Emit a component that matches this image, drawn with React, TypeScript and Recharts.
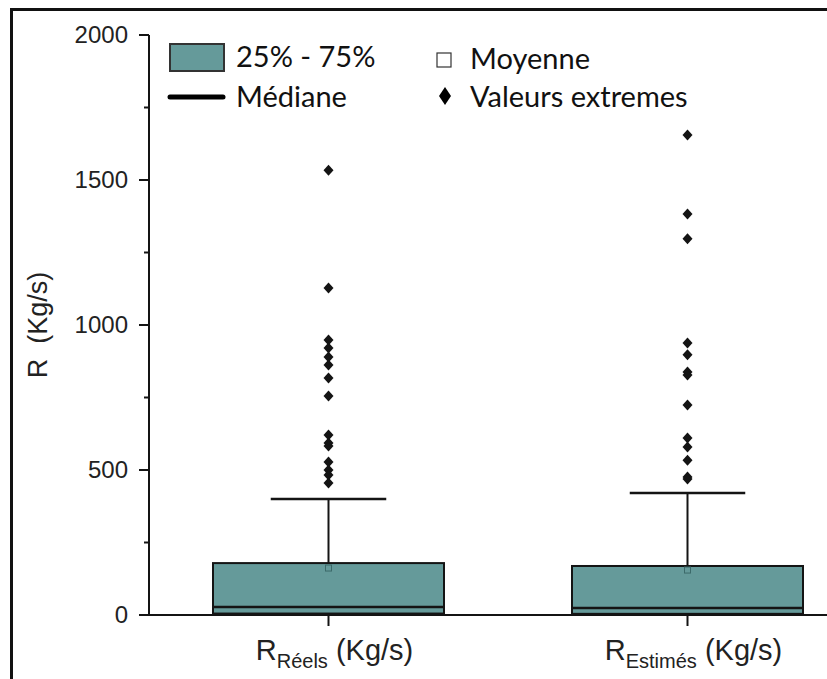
import { ComposedChart, Bar, XAxis, YAxis } from "recharts";

const groups = ["Réels", "Estimés"];
const q1 = [5, 4];
const q3 = [179, 169];
const medians = [28, 24];
const means = [162, 155];
const whiskerLow = [0, 0];
const whiskerHigh = [400, 421];
const outliersReels = [1534, 1128, 948, 921, 890, 862, 817, 755, 621, 593, 583, 528, 500, 483, 455];
const outliersEstimes = [1655, 1383, 1297, 938, 897, 838, 828, 724, 610, 579, 534, 476, 469];
const yTicks = [0, 250, 500, 750, 1000, 1250, 1500, 1750, 2000];
const yLabels = [0, 500, 1000, 1500, 2000];

const FILL = "#659a9a";
const INK = "#141414";
const SANS = "'Liberation Sans', Arial, sans-serif";

const data = groups.map((name, i) => ({
  name,
  q1: q1[i],
  q3: q3[i],
  median: medians[i],
  mean: means[i],
  low: whiskerLow[i],
  high: whiskerHigh[i],
  outliers: i === 0 ? outliersReels : outliersEstimes,
}));

const BoxShape = (props: any) => {
  const { x, y, width, height, payload } = props;
  const p = payload;
  const k = height / (p.q3 - p.q1);
  const yOf = (v: number) => y + height - (v - p.q1) * k;
  const cx = x + width / 2;
  const cap = width / 2;
  return (
    <g>
      <line x1={cx} x2={cx} y1={yOf(p.q3)} y2={yOf(p.high)} stroke={INK} strokeWidth={2} />
      <line x1={cx - cap / 2} x2={cx + cap / 2} y1={yOf(p.high)} y2={yOf(p.high)} stroke={INK} strokeWidth={2.5} />
      <line x1={cx} x2={cx} y1={yOf(p.q1)} y2={yOf(p.low)} stroke={INK} strokeWidth={2} />
      <rect x={x} y={y} width={width} height={height} fill={FILL} stroke={INK} strokeWidth={2} />
      <line x1={x} x2={x + width} y1={yOf(p.median)} y2={yOf(p.median)} stroke={INK} strokeWidth={2.5} />
      <rect x={cx - 3} y={yOf(p.mean) - 3} width={6} height={6} fill="none" stroke="#3c6a6a" strokeWidth={1} />
      {p.outliers.map((v: number, j: number) => {
        const oy = yOf(v);
        return (
          <path key={j} d={`M${cx},${oy - 5.5} L${cx + 5},${oy} L${cx},${oy + 5.5} L${cx - 5},${oy} Z`} fill={INK} />
        );
      })}
    </g>
  );
};

const YTick = (props: any) => {
  const { x, y, payload } = props;
  const major = yLabels.includes(payload.value);
  return (
    <g>
      <line x1={x - (major ? 10 : 5)} x2={x} y1={y} y2={y} stroke={INK} strokeWidth={2} />
      {major && (
        <text x={x - 21} y={y} dy={8} textAnchor="end" fontSize={24} fill="#222" fontFamily={SANS}>
          {payload.value}
        </text>
      )}
    </g>
  );
};

const XTick = (props: any) => {
  const { x, y, payload } = props;
  return (
    <g>
      <line x1={x} x2={x} y1={y} y2={y + 11} stroke={INK} strokeWidth={2} />
      <text x={x + 6} y={y + 45} textAnchor="middle" fill="#222" fontFamily={SANS} fontSize={29}>
        R
        <tspan fontSize={20} dy={8}>{payload.value}</tspan>
        <tspan dy={-8}> (Kg/s)</tspan>
      </text>
    </g>
  );
};

const legendFont = "Lato, 'Open Sans', sans-serif";

const App = () => {
  return (
    <div style={{ position: "absolute", left: 0, top: 0, width: 827, height: 679, overflow: "hidden", background: "#fff" }}>
      <div
        style={{
          position: "absolute",
          left: 10,
          top: 8,
          width: 900,
          height: 700,
          borderLeft: "3px solid #111",
          borderTop: "3px solid #111",
        }}
      />
      <div style={{ position: "absolute", left: 0, top: 0 }}>
        <ComposedChart width={900} height={679} data={data} margin={{ top: 35, right: 33, bottom: 14, left: 49 }}>
          <XAxis
            dataKey="name"
            height={50}
            tick={<XTick />}
            tickLine={false}
            tickSize={0}
            tickMargin={0}
            axisLine={{ stroke: INK, strokeWidth: 2 }}
          />
          <YAxis
            width={100}
            domain={[0, 2000]}
            ticks={yTicks}
            interval={0}
            tick={<YTick />}
            tickLine={false}
            tickSize={0}
            tickMargin={0}
            axisLine={{ stroke: INK, strokeWidth: 2 }}
            label={{
              value: "R\u00a0\u00a0(Kg/s)",
              angle: -90,
              position: "insideLeft",
              offset: -12,
              style: { fontSize: 27, fill: "#222", fontFamily: SANS, textAnchor: "middle" },
            }}
          />
          <Bar dataKey={(d: any) => [d.q1, d.q3]} barSize={231} shape={<BoxShape />} isAnimationActive={false} />
        </ComposedChart>
      </div>
      <svg width={827} height={130} style={{ position: "absolute", left: 0, top: 0 }}>
        <rect x={170} y={44} width={54} height={27} fill={FILL} stroke="#333" strokeWidth={2} />
        <line x1={170} x2={223} y1={97} y2={97} stroke="#000" strokeWidth={5} strokeLinecap="round" />
        <rect x={437} y={53} width={14} height={14} fill="#fff" stroke="#333" strokeWidth={1.2} />
        <path d="M445,87 L451,96 L445,105 L439,96 Z" fill="#000" />
        <g fontFamily={legendFont} fontSize={29} fill="#111">
          <text x={236} y={67}>25% - 75%</text>
          <text x={236} y={107}>Médiane</text>
          <text x={470} y={69}>Moyenne</text>
          <text x={470} y={107}>Valeurs extremes</text>
        </g>
      </svg>
    </div>
  );
};

export default App;
